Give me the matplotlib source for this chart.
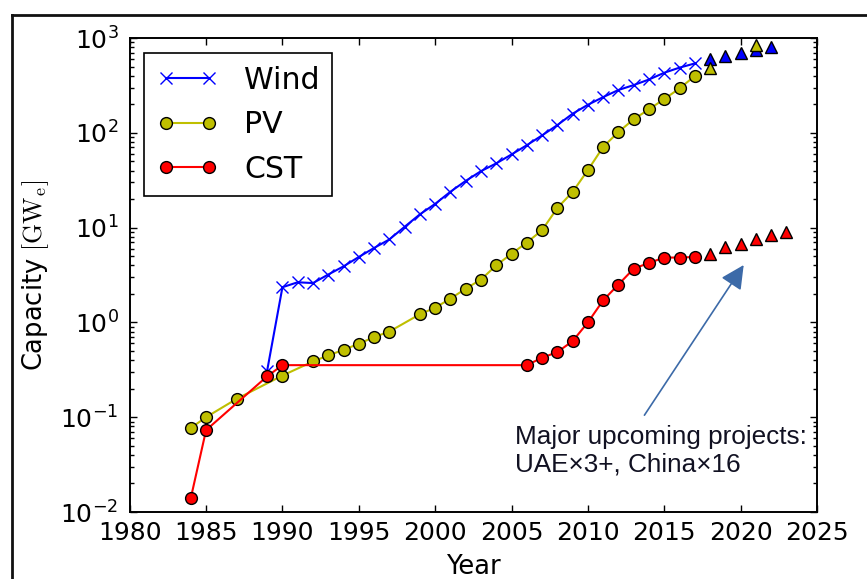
import matplotlib
matplotlib.use("Agg")
import matplotlib.pyplot as plt
from matplotlib.lines import Line2D
from matplotlib.ticker import LogLocator, FixedLocator

plt.rcParams['font.family'] = ['DejaVu Sans']
plt.rcParams['mathtext.fontset'] = 'cm'
plt.rcParams['axes.unicode_minus'] = False

# ---------------- data ----------------
wind_years = [1989, 1990, 1991, 1992, 1993, 1994, 1995, 1996, 1997, 1998, 1999,
              2000, 2001, 2002, 2003, 2004, 2005, 2006, 2007, 2008, 2009, 2010,
              2011, 2012, 2013, 2014, 2015, 2016, 2017]
wind_vals = [0.31, 2.35, 2.65, 2.6, 3.2, 3.9, 4.9, 6.1, 7.5, 10.2, 13.8,
             17.8, 23.9, 31.1, 39.4, 47.6, 59.1, 74.0, 93.9, 120.6, 159.0, 197.6,
             238.0, 283.0, 318.7, 365.0, 430.0, 487.0, 539.0]
wind_future_years = [2018, 2019, 2020, 2021, 2022]
wind_future_vals = [596, 650, 700, 747, 809]

pv_years = [1984, 1985, 1987, 1990, 1992, 1993, 1994, 1995, 1996, 1997, 1999,
            2000, 2001, 2002, 2003, 2004, 2005, 2006, 2007, 2008, 2009, 2010,
            2011, 2012, 2013, 2014, 2015, 2016, 2017]
pv_vals = [0.077, 0.10, 0.156, 0.275, 0.387, 0.448, 0.514, 0.595, 0.70, 0.80, 1.22,
           1.43, 1.78, 2.27, 2.83, 4.0, 5.3, 6.95, 9.4, 16.1, 23.8, 40.4,
           71.0, 102.0, 139.0, 177.0, 227.0, 294.0, 397.0]
pv_future_years = [2018, 2021]
pv_future_vals = [480, 844]

cst_years = [1984, 1985, 1989, 1990, 2006, 2007, 2008, 2009, 2010, 2011, 2012,
             2013, 2014, 2015, 2016, 2017]
cst_vals = [0.014, 0.073, 0.27, 0.354, 0.354, 0.424, 0.486, 0.635, 1.0, 1.71, 2.51,
            3.69, 4.24, 4.83, 4.83, 4.9]
cst_future_years = [2018, 2019, 2020, 2021, 2022, 2023]
cst_future_vals = [5.3, 6.25, 6.78, 7.66, 8.3, 9.0]

x_ticks = [1980, 1985, 1990, 1995, 2000, 2005, 2010, 2015, 2020, 2025]
series_labels = ["Wind", "PV", "CST"]
annotation_text = "Major upcoming projects:\nUAE\u00d73+, China\u00d716"
arrow_tip = (2020.2, 4.03)
arrow_tail = (2013.7, 0.105)
text_pos = (2005.25, 0.0266)

# ---------------- figure ----------------
W, H = 867, 579
fig = plt.figure(figsize=(W / 100, H / 100), dpi=100)
ax = fig.add_axes([129.7 / W, 1 - 512 / H, (817 - 129.7) / W, (512 - 38) / H])

blue = '#0000ff'
yel = '#bfbf00'
red = '#ff0000'

ax.plot(wind_years, wind_vals, color=blue, marker='x', ms=9, mew=1.0, lw=1.5,
        label=series_labels[0], zorder=3)
ax.plot(pv_years, pv_vals, color=yel, marker='o', ms=8.5, mfc=yel, mec='k', mew=1.0,
        lw=1.5, label=series_labels[1], zorder=3)
ax.plot(cst_years, cst_vals, color=red, marker='o', ms=8.5, mfc=red, mec='k', mew=1.0,
        lw=1.5, label=series_labels[2], zorder=3)

ax.plot(wind_future_years, wind_future_vals, ls='none', marker='^', ms=9,
        mfc=blue, mec='k', mew=1.0, zorder=4)
ax.plot(pv_future_years, pv_future_vals, ls='none', marker='^', ms=9,
        mfc=yel, mec='k', mew=1.0, zorder=4)
ax.plot(cst_future_years, cst_future_vals, ls='none', marker='^', ms=9,
        mfc=red, mec='k', mew=1.0, zorder=4)

ax.set_yscale('log')
ax.set_xlim(1980, 2025)
ax.set_ylim(1e-2, 1e3)
ax.xaxis.set_major_locator(FixedLocator(x_ticks))
ax.yaxis.set_major_locator(LogLocator(base=10, numticks=10))
ax.yaxis.set_minor_locator(LogLocator(base=10, subs=range(2, 10), numticks=20))

ax.tick_params(which='both', direction='in', top=True, right=True, width=1.0)
ax.tick_params(which='major', length=5)
ax.tick_params(which='minor', length=3)
ax.tick_params(axis='x', which='major', labelsize=18, pad=6.5)
ax.tick_params(axis='y', which='major', labelsize=18, pad=8)
for s in ax.spines.values():
    s.set_linewidth(1.4)

ax.set_xlabel("Year", fontsize=18.5)
ax.xaxis.set_label_coords(0.5, -0.088)
ax.set_ylabel(r"Capacity $[\mathrm{GW_e}]$", fontsize=18.5)
ax.yaxis.set_label_coords(-0.115, 0.5)

leg = ax.legend(loc='upper left', bbox_to_anchor=(144 / W, 1 - 53 / H),
                bbox_transform=fig.transFigure, borderaxespad=0,
                numpoints=2, fancybox=False, framealpha=1, edgecolor='k',
                prop={'family': 'DejaVu Sans', 'size': 21.6},
                handlelength=2.05, handletextpad=0.87, labelspacing=0.52,
                borderpad=0.42)
leg.get_frame().set_linewidth(1.2)

ax.annotate('', xy=arrow_tip, xytext=arrow_tail,
            arrowprops=dict(arrowstyle='-|>', color='#3c6aa8', lw=1.2,
                            mutation_scale=36, shrinkA=0, shrinkB=0))
ax.text(text_pos[0], text_pos[1], annotation_text, ha='left', va='baseline',
        fontsize=18.8, family=['Liberation Sans', 'DejaVu Sans'], color='#111122',
        linespacing=1.2)

# outer frame lines
fig.add_artist(Line2D([12 / W, 12 / W], [0, 1 - 15 / H], transform=fig.transFigure,
                      color='#111111', lw=2))
fig.add_artist(Line2D([12 / W, 1], [1 - 15 / H, 1 - 15 / H], transform=fig.transFigure,
                      color='#111111', lw=2))

fig.savefig("out.png", dpi=100)
